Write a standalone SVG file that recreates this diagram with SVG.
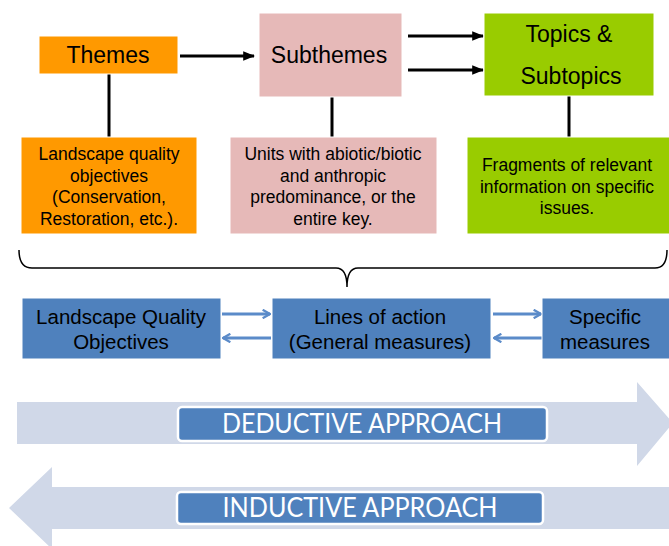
<svg xmlns="http://www.w3.org/2000/svg" width="669" height="546" viewBox="0 0 669 546">
<defs>
<style>
.t{font-family:"Liberation Sans",Arial,sans-serif;fill:#000;text-anchor:middle}
.big{font-size:23px}
.mid{font-size:17.5px}
.blu{font-size:20.5px}
.ap{font-family:Lato,"Open Sans",sans-serif;font-size:26px;fill:#fff;text-anchor:middle}
.k{stroke:#000;stroke-width:3;fill:none}
.bl{stroke:#5B8BC9;stroke-width:3;fill:none}
.box{stroke:#fff;stroke-width:1}
.bbox{fill:#4F81BD;stroke:#fff;stroke-width:1}
</style>
<marker id="ah" viewBox="0 0 10 10" refX="9" refY="5" markerWidth="4" markerHeight="4" orient="auto" markerUnits="strokeWidth">
<path d="M0,1 L10,5 L0,9 Z" fill="#000"/>
</marker>
<marker id="ob" viewBox="0 0 10 10" refX="9" refY="5" markerWidth="3.5" markerHeight="3.5" orient="auto" markerUnits="strokeWidth">
<path d="M2,1 L9,5 L2,9" fill="none" stroke="#5B8BC9" stroke-width="2.2"/>
</marker>
</defs>
<rect width="669" height="546" fill="#fff"/>

<g id="bigarrows">
<path d="M17,402 L637,402 L637,382 L673,423 L637,466 L637,444 L17,444 Z" fill="#D0D8E8"/>
<path d="M669,487 L52,487 L52,467 L9,508 L52,549 L52,529 L669,529 Z" fill="#D0D8E8"/>
</g>

<g id="connectors">
<line class="k" x1="180" y1="56" x2="254" y2="56" marker-end="url(#ah)"/>
<line class="k" x1="408" y1="36" x2="483" y2="36" marker-end="url(#ah)"/>
<line class="k" x1="408" y1="70" x2="483" y2="70" marker-end="url(#ah)"/>
<line class="k" x1="109" y1="74" x2="109" y2="137"/>
<line class="k" x1="332" y1="97" x2="332" y2="137"/>
<line class="k" x1="569" y1="96" x2="569" y2="137"/>
<path d="M19,250 Q19,268 32,268 L336,268 Q347,268 347,287 Q347,268 358,268 L655,268 Q667,268 667,250" fill="none" stroke="#000" stroke-width="1.5"/>
<line class="bl" x1="222" y1="314" x2="270" y2="314" marker-end="url(#ob)"/>
<line class="bl" x1="271" y1="338" x2="223" y2="338" marker-end="url(#ob)"/>
<line class="bl" x1="493" y1="314" x2="541" y2="314" marker-end="url(#ob)"/>
<line class="bl" x1="542" y1="338" x2="494" y2="338" marker-end="url(#ob)"/>
</g>

<g id="themes">
<rect class="box" x="39" y="36" width="139" height="38" fill="#FF9900"/>
<text class="t big" x="108" y="63">Themes</text>
</g>
<g id="subthemes">
<rect class="box" x="259" y="13" width="143" height="84" fill="#E6B9B8"/>
<text class="t big" x="329" y="63">Subthemes</text>
</g>
<g id="topics">
<rect class="box" x="484" y="13" width="170" height="83" fill="#99CC00"/>
<text class="t big" x="569" y="42">Topics &amp;</text>
<text class="t big" x="571" y="84">Subtopics</text>
</g>

<g id="lqo-desc">
<rect class="box" x="21" y="137" width="176" height="97" fill="#FF9900"/>
<text class="t mid" x="109" y="160">Landscape quality</text>
<text class="t mid" x="109" y="182">objectives</text>
<text class="t mid" x="109" y="203">(Conservation,</text>
<text class="t mid" x="109" y="225">Restoration, etc.).</text>
</g>
<g id="units-desc">
<rect class="box" x="230" y="137" width="207" height="97" fill="#E6B9B8"/>
<text class="t mid" x="333" y="160">Units with abiotic/biotic</text>
<text class="t mid" x="333" y="182">and anthropic</text>
<text class="t mid" x="333" y="203">predominance, or the</text>
<text class="t mid" x="333" y="225">entire key.</text>
</g>
<g id="fragments-desc">
<rect class="box" x="467" y="137" width="203" height="97" fill="#99CC00"/>
<text class="t mid" x="567" y="171">Fragments of relevant</text>
<text class="t mid" x="567" y="193">information on specific</text>
<text class="t mid" x="567" y="214">issues.</text>
</g>

<g id="lqo">
<rect class="bbox" x="22" y="298" width="199" height="61"/>
<text class="t blu" x="121" y="324">Landscape Quality</text>
<text class="t blu" x="121" y="349">Objectives</text>
</g>
<g id="lines-of-action">
<rect class="bbox" x="272" y="298" width="219" height="61"/>
<text class="t blu" x="380" y="324">Lines of action</text>
<text class="t blu" x="380" y="349">(General measures)</text>
</g>
<g id="specific">
<rect class="bbox" x="542" y="298" width="128" height="61"/>
<text class="t blu" x="605" y="324">Specific</text>
<text class="t blu" x="605" y="349">measures</text>
</g>

<g id="deductive">
<rect x="178" y="407" width="369" height="34" rx="4" fill="#4F81BD" stroke="#fff" stroke-width="2.5"/>
<text class="ap" x="362" y="433" textLength="280" lengthAdjust="spacingAndGlyphs">DEDUCTIVE APPROACH</text>
</g>
<g id="inductive">
<rect x="177" y="492" width="366" height="32" rx="4" fill="#4F81BD" stroke="#fff" stroke-width="2.5"/>
<text class="ap" x="360" y="517" textLength="275" lengthAdjust="spacingAndGlyphs">INDUCTIVE APPROACH</text>
</g>
</svg>
